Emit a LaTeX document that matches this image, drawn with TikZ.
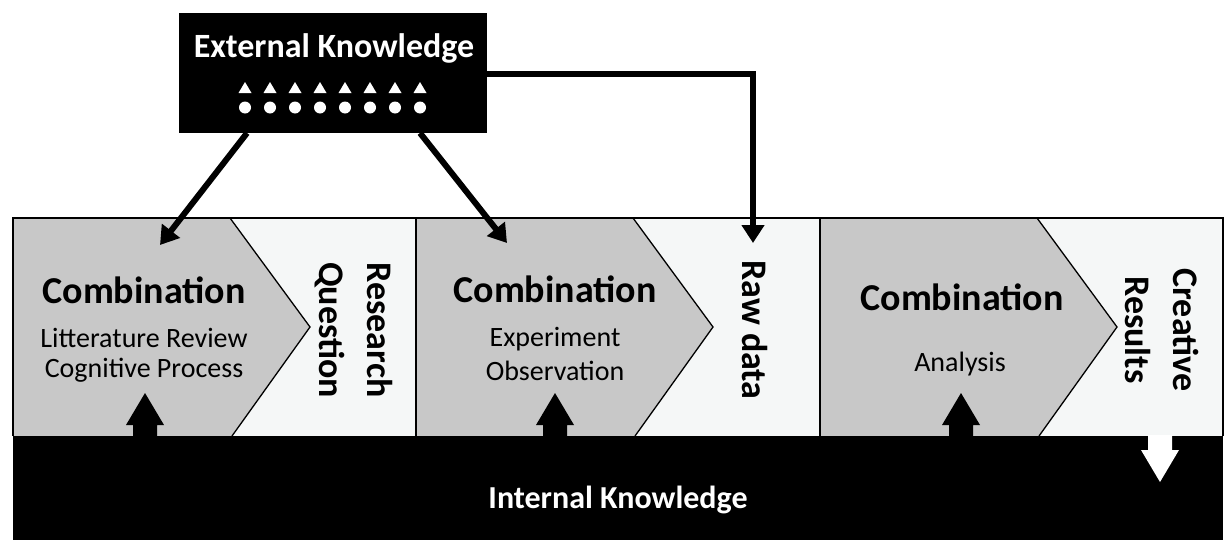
\documentclass[tikz,border=0pt]{standalone}
\usepackage{fontspec}
\setmainfont{Carlito}
\usetikzlibrary{arrows.meta}
\definecolor{lightfill}{HTML}{F5F7F7}
\definecolor{grayfill}{HTML}{C8C8C8}
\begin{document}
\begin{tikzpicture}[x=1pt,y=-1pt,
  thinline/.style={draw=black,line width=1.3pt},
  bigarrow/.style={line width=6pt,-{Triangle[length=18pt,width=22pt]}},
  combo/.style={font=\fontsize{38}{42}\selectfont\bfseries,anchor=base},
  sub/.style={font=\fontsize{28}{31}\selectfont,anchor=base},
  vert/.style={font=\fontsize{36}{48}\selectfont\bfseries,rotate=-90,align=center,inner sep=0pt},
]
\useasboundingbox (0,0) rectangle (1225,541);
% band
\fill[lightfill] (13,218) rectangle (1223,436);
\foreach \s in {13,416,820}{
  \fill[grayfill] (\s,218) -- (\s+217,218) -- (\s+297,327) -- (\s+219,436) -- (\s,436) -- cycle;
  \draw[thinline] (\s+217,218) -- (\s+297,327) -- (\s+219,436);
}
\draw[thinline] (13,436) -- (13,218) -- (1223,218) -- (1223,436);
\draw[thinline] (416,218) -- (416,436);
\draw[thinline] (820,218) -- (820,436);
% internal knowledge
\node[fill=black,minimum width=1210pt,minimum height=104pt,inner sep=0pt,anchor=north west] (int) at (13,436) {};
\node[text=white,font=\fontsize{32}{35}\selectfont\bfseries] (intlabel) at (618,500) {Internal Knowledge};
% up arrows
\foreach \c in {145,555,961}{
  \fill[black] (\c,393) -- (\c+19,425) -- (\c+12,425) -- (\c+12,437) -- (\c-12,437) -- (\c-12,425) -- (\c-19,425) -- cycle;
}
% down white arrow
\fill[white] (1148,435) -- (1172,435) -- (1172,450) -- (1179,450) -- (1160,482) -- (1141,450) -- (1148,450) -- cycle;
% texts
\node[combo] (comb1) at (144,303) {Combination};
\node[sub] (s1a) at (144,347) {Litterature Review};
\node[sub] (s1b) at (144,377) {Cognitive Process};
\node[combo] (comb2) at (555,302) {Combination};
\node[sub] (s2a) at (555,346) {Experiment};
\node[sub] (s2b) at (555,380) {Observation};
\node[combo] (comb3) at (962,310) {Combination};
\node[sub] (s3a) at (960,371) {Analysis};
\node[vert] (rq) at (354,330) {Research\\Question};
\node[vert] (raw) at (755,330) {Raw data};
\node[vert] (cr) at (1162,330) {Creative\\Results};
% external knowledge box
\node[fill=black,minimum width=308pt,minimum height=120pt,inner sep=0pt,anchor=north west] (ext) at (179,13) {};
\node[text=white,font=\fontsize{34}{38}\selectfont\bfseries] (extlabel) at (334,48) {External Knowledge};
\foreach \k in {0,...,7}{
  \fill[white] (245+25*\k,82) -- (245+25*\k+6.5,93) -- (245+25*\k-6.5,93) -- cycle;
  \fill[white] (245+25*\k,107.5) circle (6);
}
% connectors
\coordinate (t1) at (160,245);
\coordinate (t2) at (507,243);
\coordinate (t3) at (753,243);
\coordinate (s1) at (247,133);
\coordinate (s2) at (420,133);
\coordinate (s3) at (487,73.5);
\draw[bigarrow] (s1) -- (t1);
\draw[bigarrow] (s2) -- (t2);
\draw[bigarrow] (s3) -| (t3);
\end{tikzpicture}
\end{document}
